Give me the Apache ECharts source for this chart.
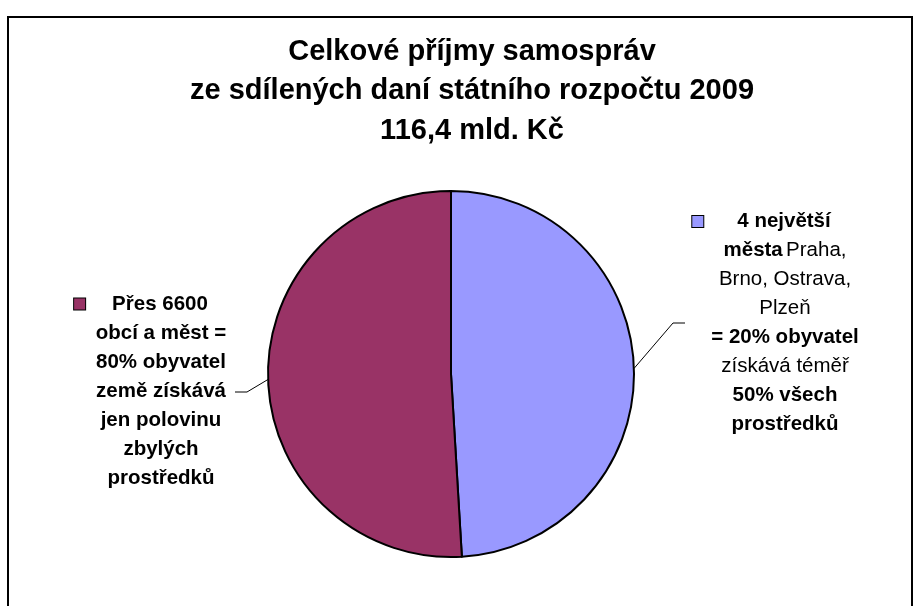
<!DOCTYPE html>
<html>
<head>
<meta charset="utf-8">
<script src="https://cdn.jsdelivr.net/npm/echarts@6/dist/echarts.min.js"></script>
<style>
  html, body { margin: 0; padding: 0; background: #fff; }
  #chart { width: 921px; height: 606px; }
</style>
</head>
<body>
<div id="chart"></div>
<script>
// data (mld. Kč)
var categories = ['4 největší města', 'Přes 6600 obcí a měst'];
var values = [57.1, 59.3];
var colors = ['#9999FF', '#993366'];

var titleLines = ['Celkové příjmy samospráv', 'ze sdílených daní státního rozpočtu 2009', '116,4 mld. Kč'];

// popisky: první řádek začíná čtverečkem legendy
var labelBig = [
    '{sq|}{g1|}{b|4 největší}{g1|}{sqh|}',
    '{b|města} {n|Praha,}',
    '{n|Brno, Ostrava,}',
    '{n|Plzeň}',
    '{b|= 20% obyvatel}',
    '{n|získává téměř}',
    '{b|50% všech}',
    '{b|prostředků}'
];
var labelRest = [
    '{sq|}{g0|}{b|Přes 6600}{g0|}{sqh|}',
    '{b|obcí a měst =}',
    '{b|80% obyvatel}',
    '{b|země získává}',
    '{b|jen polovinu}',
    '{b|zbylých}',
    '{b|prostředků}'
];
var labelLines = [labelBig, labelRest];

var font = "'Liberation Sans', Arial, sans-serif";

var chart = echarts.init(document.getElementById('chart'));

var richFor = function (color) {
    return {
        b: {fontFamily: font, fontSize: 20.5, fontWeight: 'bold', color: '#000', lineHeight: 29},
        n: {fontFamily: font, fontSize: 20.5, color: '#000', lineHeight: 29},
        sq: {width: 11, height: 11, backgroundColor: color, borderColor: '#000', borderWidth: 1, lineHeight: 29},
        sqh: {width: 13, height: 11, lineHeight: 29},
        g0: {width: 27, lineHeight: 29},
        g1: {width: 34, lineHeight: 29}
    };
};

var pieData = [];
for (var i = 0; i < categories.length; i++) {
    pieData.push({
        name: categories[i],
        value: values[i],
        itemStyle: {color: colors[i]},
        label: {rich: richFor(colors[i])}
    });
}

var option = {
    animation: false,
    backgroundColor: '#fff',
    title: {
        text: titleLines.join('\n'),
        left: 467,
        top: 27,
        textAlign: 'center',
        textStyle: {fontFamily: font, fontSize: 29, fontWeight: 'bold', color: '#000', lineHeight: 39.5}
    },
    graphic: [{
        type: 'rect',
        shape: {x: 8, y: 17, width: 904, height: 620},
        style: {fill: 'none', stroke: '#000', lineWidth: 2},
        silent: true
    }],
    series: [{
        type: 'pie',
        center: [451, 374],
        radius: 183,
        startAngle: 90,
        clockwise: true,
        itemStyle: {borderColor: '#000', borderWidth: 2},
        label: {
            show: true,
            position: 'outside',
            align: 'center',
            formatter: function (p) {
                return labelLines[p.dataIndex].join('\n');
            }
        },
        labelLine: {show: true, length: 20, length2: 12, lineStyle: {color: '#000', width: 1}},
        labelLayout: function (p) {
            var start = p.labelLinePoints ? p.labelLinePoints[0] : null;
            if (p.dataIndex === 0) {
                return {
                    x: 785, y: 323, align: 'center', verticalAlign: 'middle',
                    labelLinePoints: start ? [start, [673, 323], [685, 323]] : undefined
                };
            }
            return {
                x: 161, y: 391, align: 'center', verticalAlign: 'middle',
                labelLinePoints: start ? [start, [247, 392], [235, 392]] : undefined
            };
        },
        emphasis: {disabled: true},
        data: pieData
    }]
};

chart.setOption(option);
</script>
</body>
</html>
